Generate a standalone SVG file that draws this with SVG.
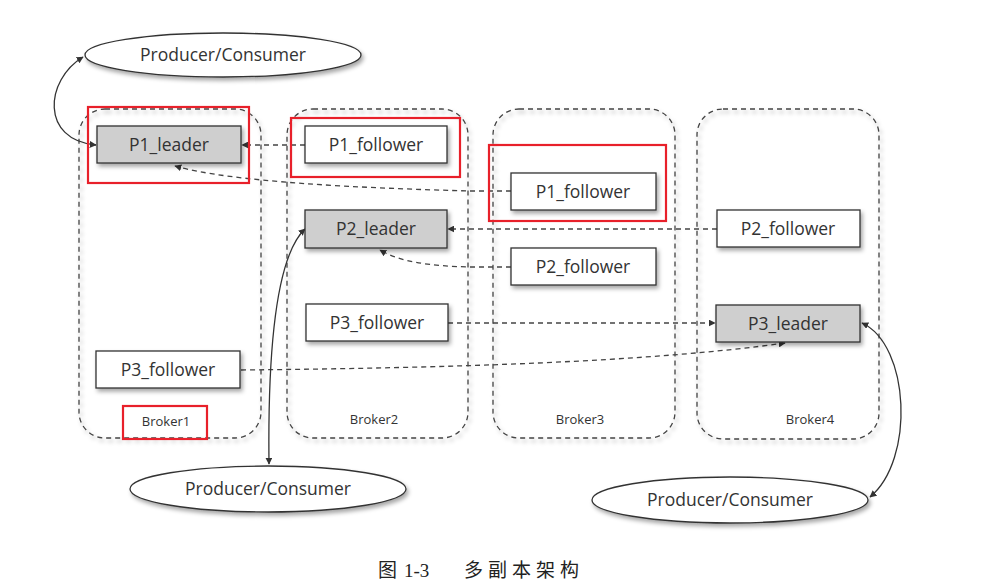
<svg xmlns="http://www.w3.org/2000/svg" width="1006" height="588" viewBox="0 0 1006 588">
<style>
.broker{fill:none;stroke:#444;stroke-width:1.3;stroke-dasharray:5 4}
.node{fill:#fff;stroke:#333;stroke-width:1.3}
.lead{fill:#cfcfcf;stroke:#333;stroke-width:1.3}
.ell{fill:#fff;stroke:#333;stroke-width:1.3}
.t{font-family:"Open Sans","Liberation Sans",sans-serif;font-size:17.5px;fill:#333;text-anchor:middle}
.bl{font-family:"Open Sans","Liberation Sans",sans-serif;font-size:13px;fill:#333;text-anchor:middle}
.dash{fill:none;stroke:#444;stroke-width:1.3;stroke-dasharray:5 4}
.solid{fill:none;stroke:#333;stroke-width:1.3}
.red{fill:none;stroke:#e8202a;stroke-width:2.2}
.cap{font-family:"Liberation Serif","Noto Sans CJK SC",serif;font-size:19px;fill:#222}
</style>
<defs>
<marker id="arr" viewBox="0 0 10 10" refX="9" refY="5" markerWidth="7" markerHeight="7" orient="auto-start-reverse" markerUnits="userSpaceOnUse">
<path d="M0,0 L10,5 L0,10 z" fill="#333"/>
</marker>
<filter id="sh" x="-10%" y="-20%" width="130%" height="160%">
<feDropShadow dx="2" dy="3" stdDeviation="2" flood-color="#000" flood-opacity="0.35"/>
</filter>
</defs>

<g id="brokers">
<g id="broker1"><rect class="broker" x="79" y="109" width="182" height="329" rx="26" filter="url(#sh)"/><text class="bl" x="166" y="426">Broker1</text></g>
<g id="broker2"><rect class="broker" x="287" y="109" width="181" height="329" rx="26" filter="url(#sh)"/><text class="bl" x="374" y="424">Broker2</text></g>
<g id="broker3"><rect class="broker" x="493" y="109" width="182" height="329" rx="26" filter="url(#sh)"/><text class="bl" x="580" y="424">Broker3</text></g>
<g id="broker4"><rect class="broker" x="697" y="109" width="182" height="330" rx="26" filter="url(#sh)"/><text class="bl" x="810" y="424">Broker4</text></g>
</g>

<g id="connectors">
<path class="dash" d="M305,145 L242,145" marker-end="url(#arr)"/>
<path class="dash" d="M511,191 L470,191 C360,188 230,182 175,166" marker-end="url(#arr)"/>
<path class="dash" d="M717,229 L448,229" marker-end="url(#arr)"/>
<path class="dash" d="M511,267 L470,267 C430,266 400,262 380,250" marker-end="url(#arr)"/>
<path class="dash" d="M448,323 L715,323" marker-end="url(#arr)"/>
<path class="dash" d="M241,370 C450,368 650,362 785,343" marker-end="url(#arr)"/>
<path class="solid" d="M83,57 C45,80 40,140 96,145" marker-start="url(#arr)" marker-end="url(#arr)"/>
<path class="solid" d="M269,464 C268,380 272,260 305,229" marker-start="url(#arr)" marker-end="url(#arr)"/>
<path class="solid" d="M862,323 C910,345 915,460 870,497" marker-start="url(#arr)" marker-end="url(#arr)"/>
</g>

<g id="p1_leader"><rect class="lead" x="97" y="126" width="144" height="37" filter="url(#sh)"/><text class="t" x="169" y="151">P1_leader</text></g>
<g id="p1_follower_b2"><rect class="node" x="305" y="126" width="142" height="37" filter="url(#sh)"/><text class="t" x="376" y="151">P1_follower</text></g>
<g id="p1_follower_b3"><rect class="node" x="511" y="173" width="145" height="37" filter="url(#sh)"/><text class="t" x="583" y="198">P1_follower</text></g>
<g id="p2_leader"><rect class="lead" x="305" y="210" width="142" height="38" filter="url(#sh)"/><text class="t" x="376" y="235">P2_leader</text></g>
<g id="p2_follower_b3"><rect class="node" x="511" y="248" width="145" height="37" filter="url(#sh)"/><text class="t" x="583" y="273">P2_follower</text></g>
<g id="p2_follower_b4"><rect class="node" x="717" y="210" width="143" height="37" filter="url(#sh)"/><text class="t" x="788" y="235">P2_follower</text></g>
<g id="p3_follower_b2"><rect class="node" x="306" y="304" width="142" height="37" filter="url(#sh)"/><text class="t" x="377" y="329">P3_follower</text></g>
<g id="p3_leader"><rect class="lead" x="716" y="305" width="144" height="37" filter="url(#sh)"/><text class="t" x="788" y="330">P3_leader</text></g>
<g id="p3_follower_b1"><rect class="node" x="96" y="351" width="144" height="37" filter="url(#sh)"/><text class="t" x="168" y="376">P3_follower</text></g>

<g id="client_top"><ellipse class="ell" cx="223" cy="55" rx="138" ry="22" filter="url(#sh)"/><text class="t" x="223" y="61">Producer/Consumer</text></g>
<g id="client_bl"><ellipse class="ell" cx="268" cy="489" rx="138" ry="23" filter="url(#sh)"/><text class="t" x="268" y="495">Producer/Consumer</text></g>
<g id="client_br"><ellipse class="ell" cx="730" cy="500" rx="138" ry="23" filter="url(#sh)"/><text class="t" x="730" y="506">Producer/Consumer</text></g>

<g id="highlights">
<rect class="red" x="88" y="107" width="161" height="76"/>
<rect class="red" x="291" y="118" width="169" height="59"/>
<rect class="red" x="489" y="145" width="177" height="76"/>
<rect class="red" x="123" y="406" width="84" height="33"/>
</g>

<text class="cap" y="577"><tspan x="378">图</tspan><tspan x="404">1-3</tspan><tspan x="464" letter-spacing="5">多副本架构</tspan></text>
</svg>
